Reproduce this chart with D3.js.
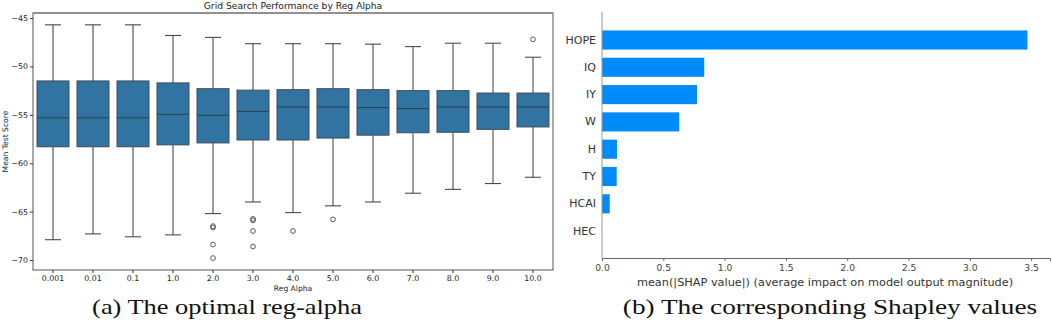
<!DOCTYPE html>
<html>
<head>
<meta charset="utf-8">
<script src="https://cdn.jsdelivr.net/npm/d3@7"></script>
<style>
  html, body { margin: 0; padding: 0; background: #fff; }
  svg { display: block; }
</style>
</head>
<body>
<svg id="chart" width="1052" height="332"></svg>
<script>
// ---------- Data: left panel (box plot) ----------
const alphaCategories = ["0.001","0.01","0.1","1.0","2.0","3.0","4.0","5.0","6.0","7.0","8.0","9.0","10.0"];
const whiskerHigh = [-45.7,-45.7,-45.7,-46.8,-47.0,-47.65,-47.65,-47.65,-47.7,-47.95,-47.6,-47.6,-49.05];
const q3Values    = [-51.5,-51.5,-51.5,-51.7,-52.3,-52.45,-52.4,-52.3,-52.4,-52.5,-52.5,-52.75,-52.75];
const medianValues= [-55.3,-55.3,-55.3,-54.95,-55.05,-54.65,-54.2,-54.2,-54.25,-54.35,-54.2,-54.2,-54.2];
const q1Values    = [-58.3,-58.3,-58.3,-58.1,-57.9,-57.6,-57.6,-57.4,-57.1,-56.85,-56.8,-56.5,-56.25];
const whiskerLow  = [-67.9,-67.3,-67.6,-67.4,-65.2,-64.0,-65.1,-64.4,-64.0,-63.1,-62.7,-62.1,-61.45];
const outlierValues = [[],[],[],[],[-66.5,-66.65,-68.4,-69.8],[-65.75,-65.9,-67.0,-68.6],[-67.0],[-65.8],[],[],[],[],[-47.2]];
const yTicksLeft = [-45,-50,-55,-60,-65,-70];

// ---------- Data: right panel (SHAP bar) ----------
const features = ["HOPE","IQ","IY","W","H","TY","HCAI","HEC"];
const shapValues = [3.47,0.834,0.775,0.63,0.122,0.12,0.063,0.0];
const xTicksRight = [0,0.5,1.0,1.5,2.0,2.5,3.0,3.5];

// ---------- Captions ----------
const captions = ["(a) The optimal reg-alpha","(b) The corresponding Shapley values"];

const svg = d3.select("#chart");
const mplFont = "'DejaVu Sans', sans-serif";

// ===== Left panel =====
const L = {left: 33, right: 553, top: 13, bottom: 270};
const xL = d3.scaleBand().domain(alphaCategories).range([L.left, L.right]).paddingInner(0.2).paddingOuter(0.1);
const yL = d3.scaleLinear().domain([-71.03, -44.48]).range([L.bottom, L.top]);

const gL = svg.append("g");
const boxFill = "#3274a1";
const lineCol = "#4a4a4a";

const boxes = alphaCategories.map((c,i)=>({c, hi:whiskerHigh[i], q3:q3Values[i], med:medianValues[i], q1:q1Values[i], lo:whiskerLow[i], out:outlierValues[i]}));
const bw = xL.bandwidth();
const capW = bw*0.5;

boxes.forEach(b=>{
  const cx = xL(b.c) + bw/2;
  gL.append("line").attr("x1",cx).attr("x2",cx).attr("y1",yL(b.q3)).attr("y2",yL(b.hi)).attr("stroke",lineCol).attr("stroke-width",1.1);
  gL.append("line").attr("x1",cx).attr("x2",cx).attr("y1",yL(b.q1)).attr("y2",yL(b.lo)).attr("stroke",lineCol).attr("stroke-width",1.1);
  gL.append("line").attr("x1",cx-capW/2).attr("x2",cx+capW/2).attr("y1",yL(b.hi)).attr("y2",yL(b.hi)).attr("stroke",lineCol).attr("stroke-width",1.1);
  gL.append("line").attr("x1",cx-capW/2).attr("x2",cx+capW/2).attr("y1",yL(b.lo)).attr("y2",yL(b.lo)).attr("stroke",lineCol).attr("stroke-width",1.1);
  gL.append("rect").attr("x",xL(b.c)).attr("width",bw).attr("y",yL(b.q3)).attr("height",yL(b.q1)-yL(b.q3))
    .attr("fill",boxFill).attr("stroke","#3d4b5a").attr("stroke-width",1);
  gL.append("line").attr("x1",xL(b.c)).attr("x2",xL(b.c)+bw).attr("y1",yL(b.med)).attr("y2",yL(b.med)).attr("stroke","#2c4256").attr("stroke-width",1.1);
  b.out.forEach(v=>{
    gL.append("circle").attr("cx",cx).attr("cy",yL(v)).attr("r",2.4).attr("fill","none").attr("stroke",lineCol).attr("stroke-width",0.9);
  });
});

gL.append("rect").attr("x",L.left).attr("y",L.top).attr("width",L.right-L.left).attr("height",L.bottom-L.top)
  .attr("fill","none").attr("stroke","#555").attr("stroke-width",1);
gL.append("line").attr("x1",L.left).attr("x2",L.right).attr("y1",L.top).attr("y2",L.top).attr("stroke","#888").attr("stroke-width",1.6);

const axL = gL.append("g").attr("transform",`translate(${L.left},0)`)
  .call(d3.axisLeft(yL).tickValues(yTicksLeft).tickSize(3).tickPadding(2).tickFormat(d=>"\u2212"+Math.abs(d)));
axL.select(".domain").remove();
axL.selectAll("line").attr("stroke","#333");
axL.selectAll("text").attr("font-family",mplFont).attr("font-size","7.8px").attr("fill","#222");

const axB = gL.append("g").attr("transform",`translate(0,${L.bottom})`)
  .call(d3.axisBottom(xL).tickSize(3).tickPadding(2));
axB.select(".domain").remove();
axB.selectAll("line").attr("stroke","#333");
axB.selectAll("text").attr("font-family",mplFont).attr("font-size","7.8px").attr("fill","#222");

gL.append("text").attr("x",(L.left+L.right)/2).attr("y",9).attr("text-anchor","middle")
  .attr("font-family",mplFont).attr("font-size","9.2px").attr("fill","#222").text("Grid Search Performance by Reg Alpha");
gL.append("text").attr("x",(L.left+L.right)/2).attr("y",291).attr("text-anchor","middle")
  .attr("font-family",mplFont).attr("font-size","7.6px").attr("fill","#222").text("Reg Alpha");
gL.append("text").attr("transform",`translate(8,${(L.top+L.bottom)/2}) rotate(-90)`).attr("text-anchor","middle")
  .attr("font-family",mplFont).attr("font-size","7.6px").attr("fill","#222").text("Mean Test Score");

// ===== Right panel =====
const R = {left: 602, right: 1050, top: 12, bottom: 258};
const xR = d3.scaleLinear().domain([0, 3.654]).range([R.left, R.right]);
const yR = d3.scaleBand().domain(features).range([26.35, 244.75]).paddingInner(0.3).paddingOuter(0.15);

const gR = svg.append("g");
gR.selectAll("rect.bar").data(features).join("rect").attr("class","bar")
  .attr("x",xR(0)).attr("y",d=>yR(d)).attr("height",yR.bandwidth())
  .attr("width",(d,i)=>Math.max(0,xR(shapValues[i])-xR(0))).attr("fill","#008bfb");

gR.append("line").attr("x1",R.left).attr("x2",R.left).attr("y1",R.top).attr("y2",R.bottom).attr("stroke","#999").attr("stroke-width",1);
const axRB = gR.append("g").attr("transform",`translate(0,${R.bottom})`)
  .call(d3.axisBottom(xR).tickValues(xTicksRight).tickSize(3).tickPadding(3).tickFormat(d3.format(".1f")));
axRB.select(".domain").attr("stroke","#666");
axRB.selectAll("line").attr("stroke","#666");
axRB.selectAll("text").attr("font-family",mplFont).attr("font-size","9.2px").attr("fill","#444");

const axRL = gR.append("g").attr("transform",`translate(${R.left},0)`)
  .call(d3.axisLeft(yR).tickSize(0).tickPadding(6));
axRL.select(".domain").remove();
axRL.selectAll("text").attr("font-family",mplFont).attr("font-size","11px").attr("fill","#333");

gR.append("text").attr("x",825).attr("y",286).attr("text-anchor","middle")
  .attr("font-family",mplFont).attr("font-size","11.3px").attr("fill","#333")
  .text("mean(|SHAP value|) (average impact on model output magnitude)");

// ===== Captions =====
const serif = "'Liberation Serif', 'Times New Roman', serif";
svg.append("text").attr("transform","translate(227,314) scale(1.2,1)").attr("text-anchor","middle")
  .attr("font-family",serif).attr("font-size","22px").attr("fill","#111").text(captions[0]);
svg.append("text").attr("transform","translate(830,314) scale(1.24,1)").attr("text-anchor","middle")
  .attr("font-family",serif).attr("font-size","22px").attr("fill","#111").text(captions[1]);
</script>
</body>
</html>
